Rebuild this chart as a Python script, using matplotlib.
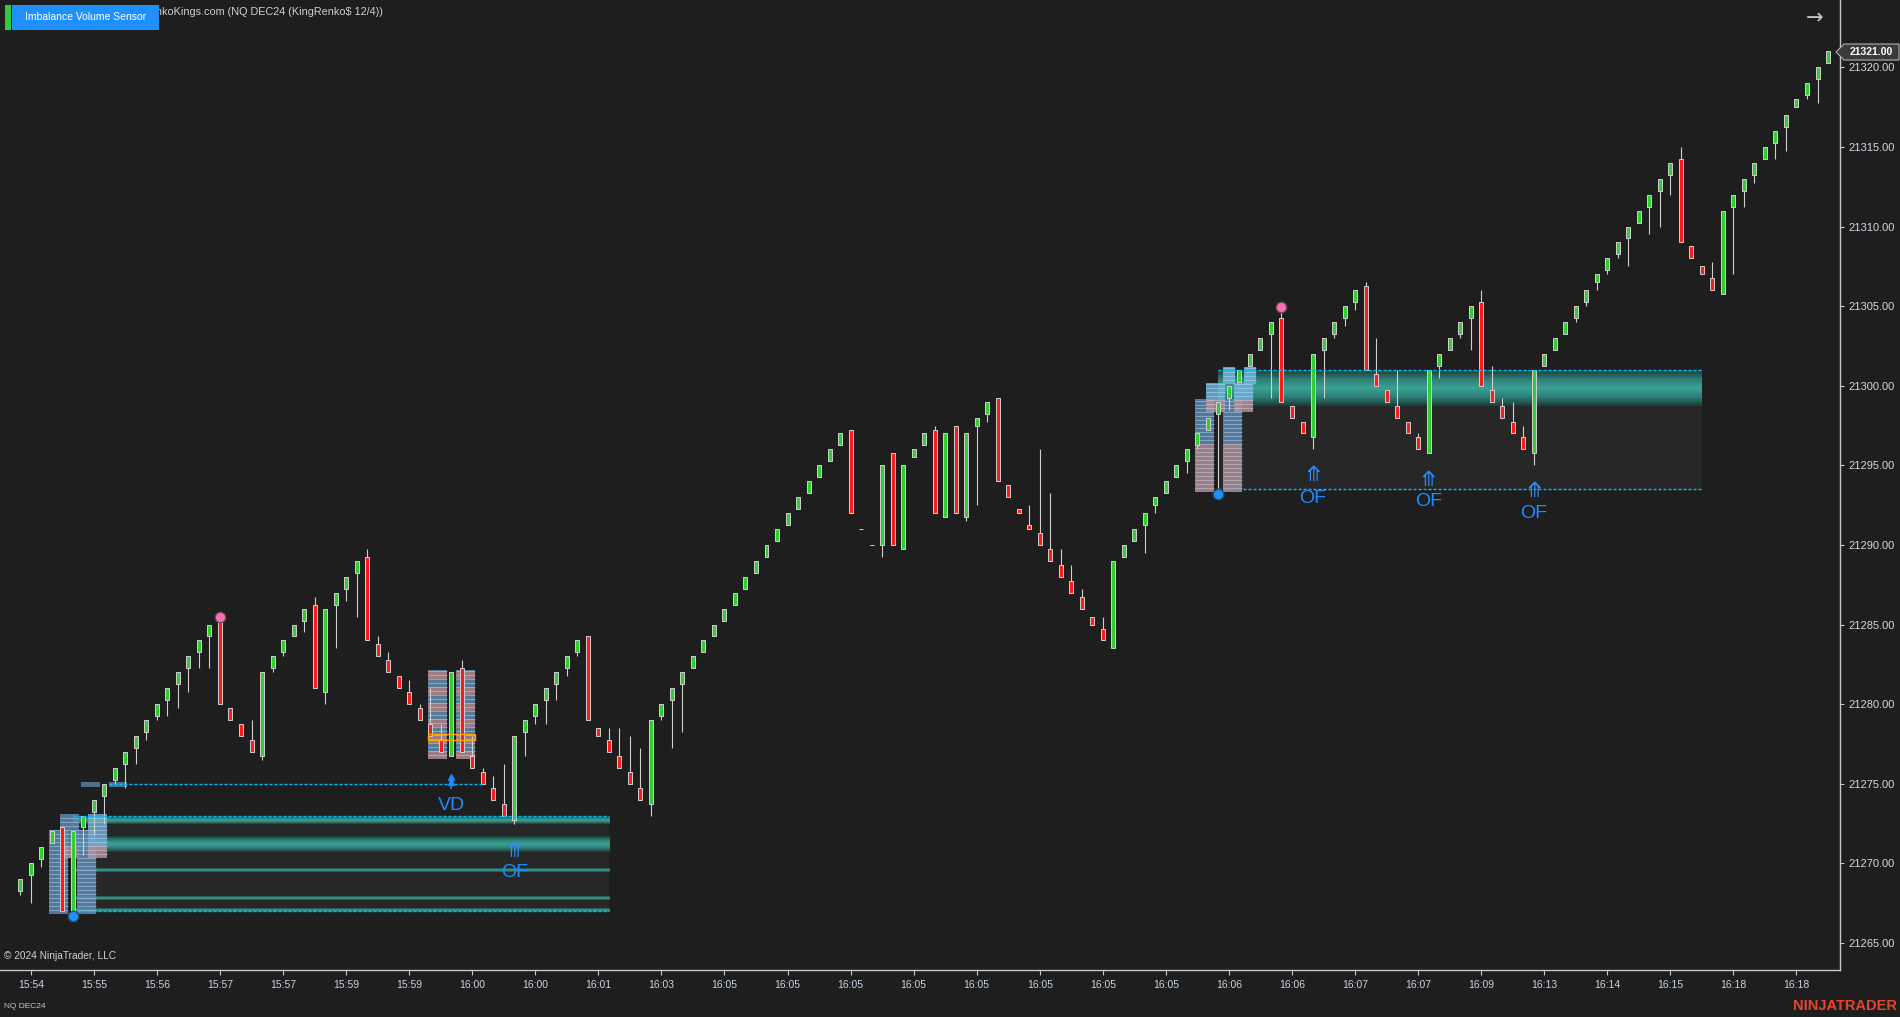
import numpy as np
import matplotlib.pyplot as plt
from matplotlib.patches import Rectangle, Polygon
from matplotlib.colors import LinearSegmentedColormap

plt.rcParams['font.family'] = ['Liberation Sans', 'DejaVu Sans']

BG = '#1e1e1e'

# renko bars (NQ DEC24)
opens = [21268.25, 21269.25, 21270.25, 21271.25, 21272.25, 21266.75, 21272.25, 21273.25, 21274.25, 21275.25,
         21276.25, 21277.25, 21278.25, 21279.25, 21280.25, 21281.25, 21282.25, 21283.25, 21284.25, 21285.25,
         21279.75, 21278.75, 21277.75, 21276.75, 21282.25, 21283.25, 21284.25, 21285.25, 21286.25, 21280.75,
         21286.25, 21287.25, 21288.25, 21289.25, 21283.75, 21282.75, 21281.75, 21280.75, 21279.75, 21278.75,
         21277.75, 21276.75, 21282.25, 21276.75, 21275.75, 21274.75, 21273.75, 21272.75, 21278.25, 21279.25,
         21280.25, 21281.25, 21282.25, 21283.25, 21284.25, 21278.5, 21277.75, 21276.75, 21275.75, 21274.75,
         21273.75, 21279.25, 21280.25, 21281.25, 21282.25, 21283.25, 21284.25, 21285.25, 21286.25, 21287.25,
         21288.25, 21289.25, 21290.25, 21291.25, 21292.25, 21293.25, 21294.25, 21295.25, 21296.25, 21297.25,
         21291, 21290, 21290, 21295.75, 21289.75, 21295.5, 21296.25, 21297.25, 21291.75, 21297.5,
         21291.75, 21297.5, 21298.25, 21299.25, 21293.75, 21292.25, 21291.25, 21290.75, 21289.75, 21288.75,
         21287.75, 21286.75, 21285.5, 21284.75, 21283.5, 21289.25, 21290.25, 21291.25, 21292.5, 21293.25,
         21294.25, 21295.25, 21296.25, 21297.25, 21298.25, 21299.25, 21300.25, 21301.25, 21302.25, 21303.25,
         21304.25, 21298.75, 21297.75, 21296.75, 21302.25, 21303.25, 21304.25, 21305.25, 21306.25, 21300.75,
         21299.75, 21298.75, 21297.75, 21296.75, 21295.75, 21301.25, 21302.25, 21303.25, 21304.25, 21305.25,
         21299.75, 21298.75, 21297.75, 21296.75, 21295.75, 21301.25, 21302.25, 21303.25, 21304.25, 21305.25,
         21306.5, 21307.25, 21308.25, 21309.25, 21310.25, 21311.25, 21312.25, 21313.25, 21314.25, 21308.75,
         21307.5, 21306.75, 21305.75, 21311.25, 21312.25, 21313.25, 21314.25, 21315.25, 21316.25, 21317.5,
         21318.25, 21319.25, 21320.25]
highs = [21269, 21270, 21271, 21272, 21272.25, 21272, 21273, 21274, 21275, 21276,
         21277, 21278, 21279, 21280, 21281, 21282, 21283, 21284, 21285, 21285.5,
         21279.75, 21278.75, 21279, 21282, 21283, 21284, 21285, 21286, 21286.75, 21286,
         21287, 21288, 21289, 21289.75, 21284.25, 21283.25, 21281.75, 21281.5, 21280, 21281,
         21278.75, 21282, 21282.75, 21278, 21276, 21275.5, 21276.25, 21278, 21279, 21280,
         21281, 21282, 21283, 21284, 21284.25, 21278.5, 21278.5, 21278.5, 21278, 21277.25,
         21279, 21280, 21281, 21282, 21283, 21284, 21285, 21286, 21287, 21288,
         21289, 21290, 21291, 21292, 21293, 21294, 21295, 21296, 21297, 21297.25,
         21291, 21290, 21295, 21295.75, 21295, 21296, 21297, 21297.5, 21297, 21297.5,
         21297, 21298, 21299, 21299.25, 21293.75, 21292.25, 21292.5, 21296, 21293.25, 21289.75,
         21288.75, 21287.25, 21285.5, 21285.5, 21289, 21290, 21291, 21292, 21293, 21294,
         21295, 21296, 21297, 21298, 21299, 21300, 21301, 21302, 21303, 21304,
         21305, 21298.75, 21297.75, 21302, 21303, 21304, 21305, 21306, 21306.5, 21303,
         21299.75, 21301, 21297.75, 21297, 21301, 21302, 21303, 21304, 21305, 21306,
         21301.25, 21299.25, 21299, 21297.5, 21301, 21302, 21303, 21304, 21305, 21306,
         21307, 21308, 21309, 21310, 21311, 21312, 21313, 21314, 21315, 21308.75,
         21307.5, 21307.75, 21311, 21312, 21313, 21314, 21315, 21316, 21317, 21318,
         21319, 21320, 21321]
lows = [21268, 21267.5, 21269.75, 21271.25, 21267, 21266.5, 21270.5, 21271.75, 21272.5, 21275,
        21274.75, 21276.25, 21277.75, 21279, 21279.25, 21279.75, 21280.75, 21282.25, 21282.25, 21280,
        21279, 21278, 21277, 21276.5, 21282, 21283, 21284.25, 21284.5, 21281, 21280,
        21283.5, 21286.5, 21285.5, 21284, 21283, 21282, 21281, 21280, 21279, 21278,
        21277, 21276.75, 21277, 21276, 21275, 21274, 21273, 21272.5, 21276.75, 21278.75,
        21278.75, 21280.25, 21281.75, 21283, 21279, 21278, 21277, 21276, 21275, 21274,
        21273, 21279, 21277.25, 21278.25, 21282.25, 21283.25, 21284.25, 21285.25, 21286.25, 21287.25,
        21288.25, 21289.25, 21290.25, 21291.25, 21292.25, 21293.25, 21294.25, 21295.25, 21296.25, 21292,
        21291, 21290, 21289.25, 21290, 21289.75, 21295.5, 21296.25, 21292, 21291.75, 21292,
        21291.5, 21292.5, 21297.75, 21294, 21293, 21292, 21291, 21290, 21289, 21288,
        21287, 21286, 21285, 21284, 21283.5, 21289.25, 21290.25, 21289.5, 21292, 21293.25,
        21294.25, 21294.5, 21296, 21297.25, 21293.25, 21298.5, 21300.25, 21301.25, 21302.25, 21299.25,
        21299, 21298, 21297, 21296, 21299.25, 21303, 21303.75, 21304.75, 21301, 21300,
        21299, 21298, 21297, 21296, 21295.75, 21300.5, 21302.25, 21303, 21302.25, 21300,
        21299, 21298, 21297, 21296, 21295, 21301.25, 21302.25, 21303.25, 21304, 21305,
        21306, 21307, 21308, 21307.5, 21310.25, 21309.5, 21310, 21312, 21309, 21308,
        21307, 21306, 21305.75, 21307, 21311.25, 21312.75, 21314.25, 21314.25, 21314.75, 21317.5,
        21318, 21317.75, 21320.25]
closes = [21269, 21270, 21271, 21272, 21267, 21272, 21273, 21274, 21275, 21276,
          21277, 21278, 21279, 21280, 21281, 21282, 21283, 21284, 21285, 21280,
          21279, 21278, 21277, 21282, 21283, 21284, 21285, 21286, 21281, 21286,
          21287, 21288, 21289, 21284, 21283, 21282, 21281, 21280, 21279, 21278,
          21277, 21282, 21277, 21276, 21275, 21274, 21273, 21278, 21279, 21280,
          21281, 21282, 21283, 21284, 21279, 21278, 21277, 21276, 21275, 21274,
          21279, 21280, 21281, 21282, 21283, 21284, 21285, 21286, 21287, 21288,
          21289, 21290, 21291, 21292, 21293, 21294, 21295, 21296, 21297, 21292,
          21291, 21290, 21295, 21290, 21295, 21296, 21297, 21292, 21297, 21292,
          21297, 21298, 21299, 21294, 21293, 21292, 21291, 21290, 21289, 21288,
          21287, 21286, 21285, 21284, 21289, 21290, 21291, 21292, 21293, 21294,
          21295, 21296, 21297, 21298, 21299, 21300, 21301, 21302, 21303, 21304,
          21299, 21298, 21297, 21302, 21303, 21304, 21305, 21306, 21301, 21300,
          21299, 21298, 21297, 21296, 21301, 21302, 21303, 21304, 21305, 21300,
          21299, 21298, 21297, 21296, 21301, 21302, 21303, 21304, 21305, 21306,
          21307, 21308, 21309, 21310, 21311, 21312, 21313, 21314, 21309, 21308,
          21307, 21306, 21311, 21312, 21313, 21314, 21315, 21316, 21317, 21318,
          21319, 21320, 21321]

time_labels = ['15:54', '15:55', '15:56', '15:57', '15:57', '15:59', '15:59', '16:00', '16:00', '16:01',
               '16:03', '16:05', '16:05', '16:05', '16:05', '16:05', '16:05', '16:05', '16:05', '16:06',
               '16:06', '16:07', '16:07', '16:09', '16:13', '16:14', '16:15', '16:18', '16:18']
label_bars = list(range(1, 170, 6))
price_ticks = [21265, 21270, 21275, 21280, 21285, 21290, 21295, 21300, 21305, 21310, 21315, 21320]

# imbalance zones: start bar, end bar, bottom, top
zone_start = [5.0, 114.0]
zone_end = [56.0, 160.0]
zone_lo = [21267.0, 21293.5]
zone_hi = [21273.0, 21301.0]
# teal bands inside the zones
band_start = [5.0, 5.0, 5.0, 5.0, 5.0, 114.0]
band_end = [56.0, 56.0, 56.0, 56.0, 56.0, 160.0]
band_lo = [21272.45, 21270.73, 21269.47, 21267.71, 21266.96, 21298.75]
band_hi = [21272.9, 21271.7, 21269.68, 21267.93, 21267.17, 21301.0]

# volume profile boxes
box_x0 = [2.73, 3.78, 5.39, 6.44, 38.8, 41.5, 111.8, 114.4, 112.8, 115.5, 114.4, 116.4]
box_x1 = [4.54, 5.59, 7.2, 8.25, 40.6, 43.3, 113.6, 116.2, 114.6, 117.3, 115.6, 117.6]
box_lo = [21266.83, 21270.35, 21266.83, 21270.35, 21276.55, 21276.55,
          21293.32, 21293.32, 21298.37, 21298.37, 21300.13, 21300.13]
box_hi = [21272.1, 21273.1, 21272.1, 21273.1, 21282.14, 21282.14,
          21299.16, 21299.16, 21300.17, 21300.17, 21301.17, 21301.17]
box_pink_hi = [None, 21271.1, None, 21271.1, 'mix', 'mix',
               21296.1, 21296.1, 21299.1, 21299.1, None, None]
box_color = ['#5b8ab3', '#5b8ab3', '#5b8ab3', '#6fa9d2', '#5b8ab3', '#5b8ab3',
             '#5b8ab3', '#5b8ab3', '#69b3dc', '#69b3dc', '#6cb8e0', '#6cb8e0']

# signals
pink_bars = [19, 120]
pink_prices = [21285.5, 21304.95]
blue_bars = [5, 114]
blue_prices = [21266.7, 21293.2]
of_bars = [47, 123, 134, 144]
of_arrow_prices = [21270.8, 21294.4, 21294.1, 21293.4]
of_text_prices = [21269.4, 21292.9, 21292.7, 21292.0]
vd_bar = 41
vd_level = 21275.0
vd_line = (8.4, 44.0)

fig = plt.figure(figsize=(19, 10.17), dpi=100, facecolor=BG)
ax = fig.add_axes([0, 1 - 969.5 / 1017, 1840 / 1900, 969.5 / 1017])
ax.set_facecolor(BG)

teal = LinearSegmentedColormap.from_list('teal', ['#1b3d3a', '#2f7f76', '#3aa296', '#2f7f76', '#1b3d3a'])
grad = np.linspace(0, 1, 64).reshape(-1, 1)

# zones
for x0, x1, lo, hi in zip(zone_start, zone_end, zone_lo, zone_hi):
    ax.add_patch(Rectangle((x0, lo), x1 - x0, hi - lo, facecolor='#272727', edgecolor='none', zorder=1))
    ax.hlines([lo, hi], x0, x1, colors='#00bfff', linewidth=1, linestyles=(0, (2.2, 1.4)), zorder=6)
for x0, x1, lo, hi in zip(band_start, band_end, band_lo, band_hi):
    ax.imshow(grad, cmap=teal, extent=(x0, x1, lo, hi), aspect='auto', origin='lower',
              interpolation='bilinear', zorder=2)

# volume profile boxes
for x0, x1, lo, hi, pk, col in zip(box_x0, box_x1, box_lo, box_hi, box_pink_hi, box_color):
    rows = np.arange(lo, hi, 0.25)
    for i, r in enumerate(rows):
        top = min(r + 0.25, hi)
        c = col
        if pk == 'mix':
            c = '#b38c96' if (i // 2) % 2 == 0 else '#5f8cb0'
        elif pk is not None and r < pk:
            c = '#b58f98'
        ax.add_patch(Rectangle((x0, r), x1 - x0, top - r, facecolor=c, edgecolor='none',
                               alpha=0.85, zorder=3))
    ax.hlines(rows[1:], x0, x1, colors='#c4dcef', linewidth=0.6, alpha=0.55, zorder=3)

ax.add_patch(Rectangle((38.8, 21277.76), 4.5, 0.34, facecolor='none', edgecolor='#ffa500',
                       linewidth=1, zorder=7))

# VD level
ax.add_patch(Rectangle((5.8, 21274.8), 1.8, 0.3, facecolor='#4c7190', edgecolor='none', zorder=3))
ax.add_patch(Rectangle((8.4, 21274.8), 1.8, 0.3, facecolor='#4c7190', edgecolor='none', zorder=3))
ax.hlines(vd_level, vd_line[0], vd_line[1], colors='#00bfff', linewidth=1,
          linestyles=(0, (2.2, 1.4)), zorder=6)

# candles
x = np.arange(len(opens))
o = np.array(opens)
c = np.array(closes)
cols = np.where(c > o, '#32cd32', np.where(c < o, '#ff1a1a', '#c8c8c8'))
ax.vlines(x, lows, highs, color='#cfcfcf', linewidth=0.8, zorder=4)
ax.bar(x, np.abs(c - o), bottom=np.minimum(o, c), width=0.38, color=cols,
       edgecolor='#d0d0d0', linewidth=0.7, zorder=5)

# dots
ax.plot(pink_bars, pink_prices, 'o', color='#ff6eb4', markeredgecolor='#6a4a5a', markersize=7.5, zorder=8)
ax.plot(blue_bars, blue_prices, 'o', color='#1e90ff', markeredgecolor='#2d4d6d', markersize=7.5, zorder=8)

# signal labels
for b, ap, tp in zip(of_bars, of_arrow_prices, of_text_prices):
    ax.text(b, ap, '\u290a', color='#2a8cff', fontsize=15, ha='center', va='center',
            family=['DejaVu Sans'], zorder=9)
    ax.text(b, tp, 'OF', color='#1e8cff', fontsize=14, ha='center', va='center', zorder=9)
ax.plot([vd_bar, vd_bar], [21274.7, 21275.4], color='#1e8cff', linewidth=1.2, zorder=9)
ax.plot([vd_bar, vd_bar], [21275.45, 21275.1], '^', color='#1e8cff', markersize=5, zorder=9)
ax.text(vd_bar, 21273.65, 'VD', color='#1e8cff', fontsize=14, ha='center', va='center', zorder=9)

# axes styling
ax.set_xlim(-1.93, 173.14)
ax.set_ylim(21263.33, 21324.23)
for s in ['left', 'top']:
    ax.spines[s].set_visible(False)
for s in ['right', 'bottom']:
    ax.spines[s].set_color('#c8c8c8')
    ax.spines[s].set_linewidth(1)
ax.yaxis.tick_right()
ax.set_yticks(price_ticks)
ax.set_yticklabels([f'{p:.2f}' for p in price_ticks])
ax.set_xticks(label_bars)
ax.set_xticklabels(time_labels)
ax.tick_params(axis='y', colors='#c8c8c8', labelcolor='#d0d8e4', labelsize=8, length=3, pad=3)
ax.tick_params(axis='x', colors='#c8c8c8', labelcolor='#c8d4e4', labelsize=7.5, length=3.5, pad=4)

# header / footer
fx = lambda px: px / 1900
fy = lambda py: 1 - py / 1017
fig.text(fx(141.5), fy(12), 'RenkoKings.com (NQ DEC24 (KingRenko$ 12/4))', color='#d0d0d0',
         fontsize=7.8, va='center', ha='left', zorder=1)
fig.add_artist(Rectangle((fx(5), fy(30)), fx(6), 25 / 1017, transform=fig.transFigure,
                         facecolor='#32cd32', edgecolor='none', zorder=4))
fig.add_artist(Rectangle((fx(12), fy(30)), fx(147), 25 / 1017, transform=fig.transFigure,
                         facecolor='#1e90ff', edgecolor='none', zorder=4))
fig.text(fx(85.5), fy(17.5), 'Imbalance Volume Sensor', color='white', fontsize=7.5,
         ha='center', va='center', zorder=5)
fig.text(fx(1815), fy(18), '\u2192', color='#c8c8c8', fontsize=15, ha='center', va='center',
         family=['DejaVu Sans'])
fig.add_artist(Polygon([(fx(1836), fy(52)), (fx(1844), fy(44)), (fx(1899), fy(44)),
                        (fx(1899), fy(60)), (fx(1844), fy(60))], closed=True,
                       transform=fig.transFigure, facecolor='#3a3a3a', edgecolor='#b0b0b0',
                       linewidth=0.8, zorder=4))
fig.text(fx(1871), fy(52), '21321.00', color='white', fontsize=7.5, fontweight='bold',
         ha='center', va='center', zorder=5)
fig.text(fx(4), fy(956), '\u00a9 2024 NinjaTrader, LLC', color='#d0d0d0', fontsize=7.3,
         ha='left', va='center')
fig.text(fx(4), fy(1007), 'NQ DEC24', color='#c8c8c8', fontsize=6, ha='left', va='center')
fig.text(fx(1897), fy(1006), 'NINJATRADER', color='#e8452b', fontsize=10.5, fontweight='bold',
         ha='right', va='center', family=['Liberation Sans Narrow', 'Liberation Sans'])

fig.savefig('out.png', dpi=100, facecolor=BG)
